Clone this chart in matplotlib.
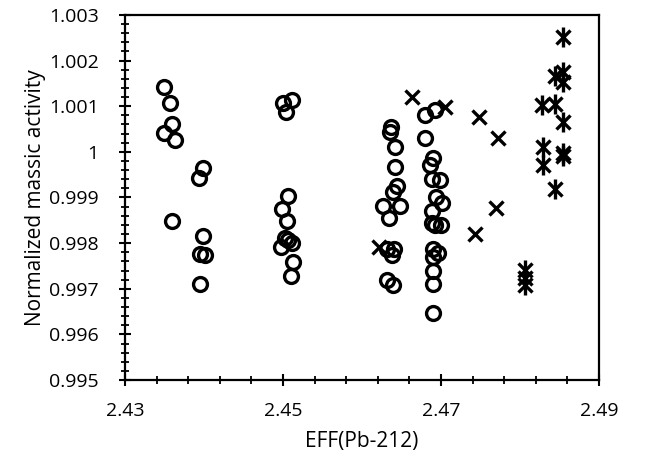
import numpy as np
import matplotlib.pyplot as plt
from matplotlib.ticker import FixedLocator, FuncFormatter

plt.rcParams['font.family'] = ['Open Sans', 'DejaVu Sans']

# circles: EFF(Pb-212) vs normalized massic activity
circ_x = [2.4349, 2.4357, 2.4360, 2.4349, 2.4363, 2.4360,
          2.4399, 2.4394, 2.4399, 2.4395, 2.4401, 2.4395,
          2.4500, 2.4511, 2.4504, 2.4506, 2.4499, 2.4505, 2.4503, 2.4498, 2.4511, 2.4513, 2.4510, 2.4506,
          2.4637, 2.4635, 2.4642, 2.4642, 2.4644, 2.4639, 2.4627, 2.4648, 2.4634, 2.4632, 2.4641, 2.4638, 2.4632, 2.4639,
          2.4680, 2.4692, 2.4680, 2.4690, 2.4686, 2.4689, 2.4699, 2.4694, 2.4701, 2.4689, 2.4689, 2.4700, 2.4692,
          2.4690, 2.4696, 2.4690, 2.4690, 2.4690, 2.4690]
circ_y = [1.00142, 1.00107, 1.00061, 1.00041, 1.00026, 0.99849,
          0.99965, 0.99943, 0.99816, 0.99776, 0.99774, 0.99710,
          1.00107, 1.00114, 1.00087, 0.99903, 0.99875, 0.99849, 0.99811, 0.99792, 0.99800, 0.99759, 0.99728, 0.99806,
          1.00055, 1.00044, 1.00011, 0.99967, 0.99925, 0.99912, 0.99881, 0.99881, 0.99855, 0.99787, 0.99787, 0.99774, 0.99719, 0.99708,
          1.00081, 1.00092, 1.00030, 0.99987, 0.99971, 0.99941, 0.99938, 0.99901, 0.99888, 0.99870, 0.99844, 0.99840, 0.99840,
          0.99787, 0.99778, 0.99770, 0.99739, 0.99710, 0.99647]

# crosses
cross_x = [2.4663, 2.4705, 2.4748, 2.4772, 2.4770, 2.4743, 2.4622]
cross_y = [1.00120, 1.00098, 1.00076, 1.00030, 0.99877, 0.99820, 0.99792]

# asterisks
star_x = [2.4854, 2.4854, 2.4844, 2.4854, 2.4828, 2.4844, 2.4854, 2.4829,
          2.4854, 2.4854, 2.4829, 2.4844, 2.4806, 2.4806, 2.4806]
star_y = [1.00252, 1.00175, 1.00166, 1.00153, 1.00103, 1.00105, 1.00066, 1.00011,
          0.99998, 0.99991, 0.99971, 0.99919, 0.99741, 0.99724, 0.99708]

fig = plt.figure(figsize=(6.67, 4.68), dpi=100)
ax = fig.add_axes([0.1874, 0.188, 0.7106, 0.780])

ax.plot(circ_x, circ_y, 'o', ms=10, mfc='none', mec='black', mew=2.4)
ax.plot(cross_x, cross_y, 'x', ms=10.5, mec='black', mew=2.4)
ax.plot(star_x, star_y, 'x', ms=10.5, mec='black', mew=2.4)
ax.plot(star_x, star_y, '|', ms=14, mec='black', mew=2.4)

ax.set_xlim(2.43, 2.49)
ax.set_ylim(0.995, 1.003)
ax.xaxis.set_major_locator(FixedLocator(np.linspace(2.43, 2.49, 4)))
ax.xaxis.set_minor_locator(FixedLocator(np.linspace(2.43, 2.49, 16)))
ax.yaxis.set_major_locator(FixedLocator(np.linspace(0.995, 1.003, 9)))
ax.yaxis.set_minor_locator(FixedLocator(np.linspace(0.995, 1.003, 41)))
ax.xaxis.set_major_formatter(FuncFormatter(lambda v, p: f'{round(v, 2):g}'))
ax.yaxis.set_major_formatter(FuncFormatter(lambda v, p: f'{round(v, 3):g}'))

for s in ax.spines.values():
    s.set_linewidth(1.6)
ax.tick_params(which='major', direction='inout', length=8, width=1.5, labelsize=14)
ax.tick_params(axis='y', which='major', pad=15)
ax.tick_params(axis='x', which='major', pad=12)
ax.tick_params(which='minor', direction='inout', length=6, width=1.3)

ax.set_xlabel('EFF(Pb-212)', fontsize=15, labelpad=8)
ax.set_ylabel('Normalized massic activity', fontsize=15, labelpad=2)

fig.savefig('out.png', dpi=100)
